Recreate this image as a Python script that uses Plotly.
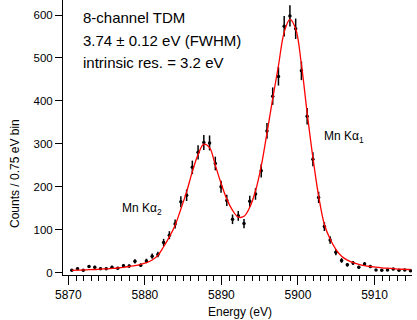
import plotly.graph_objects as go

energy = [5870.45, 5871.2, 5871.95, 5872.7, 5873.45, 5874.2, 5874.95, 5875.7, 5876.45, 5877.2,
          5877.95, 5878.7, 5879.45, 5880.2, 5880.95, 5881.7, 5882.45, 5883.2, 5883.95, 5884.7,
          5885.45, 5886.2, 5886.95, 5887.7, 5888.45, 5889.2, 5889.95, 5890.7, 5891.45, 5892.2,
          5892.95, 5893.7, 5894.45, 5895.2, 5895.95, 5896.7, 5897.45, 5898.2, 5898.95, 5899.7,
          5900.45, 5901.2, 5901.95, 5902.7, 5903.45, 5904.2, 5904.95, 5905.7, 5906.45, 5907.2,
          5907.95, 5908.7, 5909.45, 5910.2, 5910.95, 5911.7, 5912.45, 5913.2, 5913.95, 5914.7]

counts = [5, 9, 5, 14, 12, 9, 9, 12, 10, 16,
          15, 26, 17, 27, 38, 42, 70, 87, 113, 165,
          180, 245, 280, 303, 302, 254, 200, 168, 124, 132,
          114, 166, 183, 237, 330, 411, 457, 574, 598, 568,
          470, 364, 264, 175, 107, 76, 47, 28, 18, 22,
          12, 20, 14, 6, 5, 6, 8, 5, 6, 4]

errors = [2.2, 3.0, 2.2, 3.7, 3.5, 3.0, 3.0, 3.5, 3.2, 4.0,
          3.9, 5.1, 4.1, 5.2, 6.2, 6.5, 8.4, 9.3, 10.6, 12.8,
          13.4, 15.7, 16.7, 17.4, 17.4, 15.9, 14.1, 13.0, 11.1, 11.5,
          10.7, 12.9, 13.5, 15.4, 18.2, 20.3, 21.4, 24.0, 24.5, 23.8,
          21.7, 19.1, 16.2, 13.2, 10.3, 8.7, 6.9, 5.3, 4.2, 4.7,
          3.5, 4.5, 3.7, 2.4, 2.2, 2.4, 2.8, 2.2, 2.4, 2.0]

fit = [5, 5.5, 6, 6.5, 7, 8, 8.5, 9.5, 10.5, 12,
       14, 16, 19, 23, 29, 40, 60, 83, 110, 148,
       188, 235, 275, 299, 291, 250, 208, 171, 145, 129,
       131, 152, 190, 248, 325, 405, 482, 560, 590, 568,
       485, 372, 268, 178, 112, 78, 54, 38, 29, 23,
       19, 16, 14, 12.5, 11, 10, 9, 8, 7.5, 7]

x_ticks = [5870, 5880, 5890, 5900, 5910]
y_ticks = [0, 100, 200, 300, 400, 500, 600]

info_lines = ["8-channel TDM", "3.74 ± 0.12 eV (FWHM)", "intrinsic res. = 3.2 eV"]

FONT = "Arial, Liberation Sans, sans-serif"

fig = go.Figure()
fig.add_trace(go.Scatter(
    x=energy, y=counts, mode="markers",
    marker=dict(color="black", size=3.5),
    error_y=dict(type="data", array=errors, visible=True, color="black", thickness=1.5, width=0),
    showlegend=False, hoverinfo="skip"))
fig.add_trace(go.Scatter(
    x=energy, y=fit, mode="lines",
    line=dict(color="#ff0000", width=1.3, shape="spline", smoothing=1.0),
    showlegend=False, hoverinfo="skip"))

fig.update_layout(
    width=417, height=320,
    margin=dict(l=63, r=5, t=0, b=45),
    paper_bgcolor="white", plot_bgcolor="white",
    font=dict(family=FONT, size=12, color="black"),
    xaxis=dict(range=[5869.3, 5914.9], showgrid=False, zeroline=False,
               showline=True, linecolor="black", linewidth=1,
               ticks="outside", ticklen=9, tickwidth=1, tickcolor="black",
               tickvals=x_ticks, ticktext=[str(v) for v in x_ticks],
               tickfont=dict(size=12),
               minor=dict(ticks="outside", ticklen=5, dtick=1, tickcolor="black", tickwidth=1, showgrid=False)),
    yaxis=dict(range=[-5.8, 635], showgrid=False, zeroline=False,
               showline=True, linecolor="black", linewidth=1,
               ticks="outside", ticklen=7, tickwidth=1, tickcolor="black",
               tickvals=y_ticks, ticktext=[str(v) for v in y_ticks],
               tickfont=dict(size=11.5)),
)

annotations = []
for i, t in enumerate(info_lines):
    annotations.append(dict(text=t, xref="paper", yref="paper", x=(81 - 63) / 349, y=1 - (18 + 22 * i) / 275,
                            xanchor="left", yanchor="middle", showarrow=False,
                            font=dict(size=15, family=FONT)))
annotations.append(dict(text="Mn Kα<sub>2</sub>", xref="paper", yref="paper",
                        x=(120 - 63) / 349, y=1 - 209 / 275, xanchor="left", yanchor="middle",
                        showarrow=False, font=dict(size=12, family=FONT)))
annotations.append(dict(text="Mn Kα<sub>1</sub>", xref="paper", yref="paper",
                        x=(322 - 63) / 349, y=1 - 137 / 275, xanchor="left", yanchor="middle",
                        showarrow=False, font=dict(size=12, family=FONT)))
annotations.append(dict(text="Energy (eV)", xref="paper", yref="paper",
                        x=(240 - 63) / 349, y=1 - 312 / 275, xanchor="center", yanchor="middle",
                        showarrow=False, font=dict(size=12, family=FONT)))
annotations.append(dict(text="Counts / 0.75 eV bin", xref="paper", yref="paper",
                        x=(15 - 63) / 349, y=1 - 174 / 275, xanchor="center", yanchor="middle",
                        textangle=-90, showarrow=False, font=dict(size=12, family=FONT)))
fig.update_layout(annotations=annotations)

fig.write_html("out.html", config={"displayModeBar": False},
               post_script="document.body.style.margin='0';document.body.style.overflow='hidden';")
